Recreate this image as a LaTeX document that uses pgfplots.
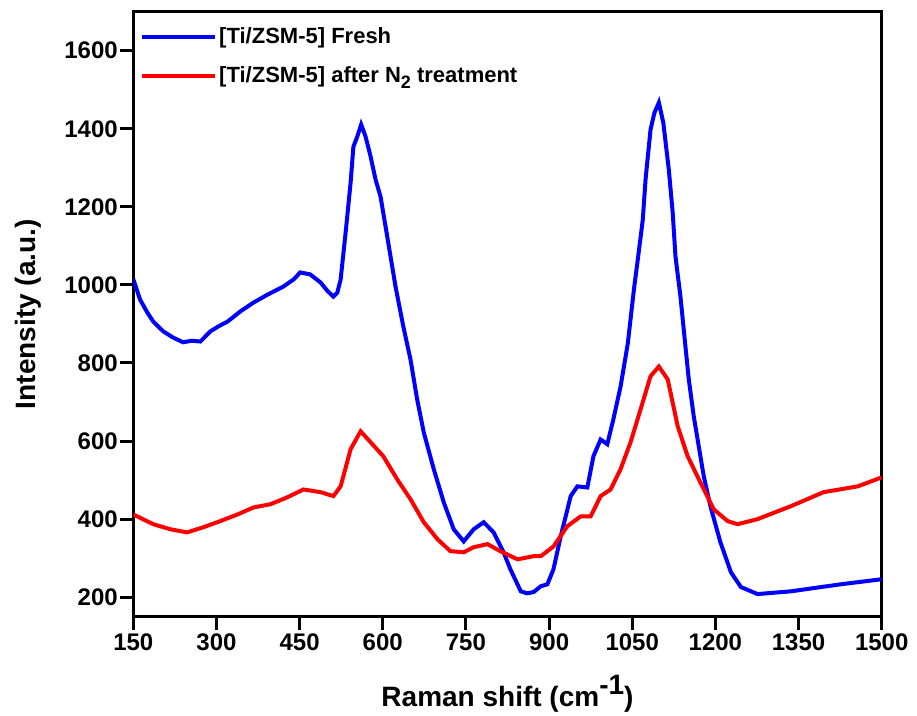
\documentclass[border=0pt]{standalone}
\usepackage{fontspec}
\setmainfont{Liberation Sans}
\usepackage{pgfplots}
\pgfplotsset{compat=1.18}
\usetikzlibrary{calc}
\definecolor{cblue}{RGB}{0,0,255}
\definecolor{cred}{RGB}{255,0,0}
\begin{document}
\begin{tikzpicture}
\begin{axis}[
  scale only axis, width=748.4pt, height=605pt,
  xmin=150, xmax=1500, ymin=150, ymax=1700,
  xtick={150,300,...,1500}, ytick={200,400,...,1600},
  tick align=outside, major tick length=12pt,
  xtick pos=left, ytick pos=left,
  axis line style={line width=3.5pt},
  major tick style={draw=black, line width=3pt},
  /pgf/number format/assume math mode=true,
  /pgf/number format/1000 sep={},
  tick label style={font=\bfseries\fontsize{24}{24}\selectfont},
  xticklabel style={yshift=-2pt},
  xlabel={Raman shift (cm\raisebox{0.75ex}{-1})},
  ylabel={Intensity (a.u.)},
  every axis x label/.style={at={(axis description cs:0.5,-0.1476)}, anchor=base, font=\bfseries\fontsize{28}{28}\selectfont},
  every axis y label/.style={at={(axis description cs:-0.1405,0.5)}, rotate=90, anchor=center, font=\bfseries\fontsize{28}{28}\selectfont},
  legend style={at={(axis description cs:0.005,0.98)}, anchor=north west, draw=none, fill=none,
    font=\bfseries\fontsize{22}{22}\selectfont, row sep=17.5pt, cells={anchor=west}},
  legend image code/.code={\draw[#1] (0pt,0pt) -- (73pt,0pt);},
]
\addplot[cblue, line width=4pt] coordinates {
(150,1015) (162,963) (175,930) (186,906) (204,881) (222,865) (240,853) (255,857)
(271,855) (289,881) (305,895) (320,906) (343,932) (367,955) (392,975) (421,996)
(440,1015) (451,1032) (469,1027) (488,1006) (500,985) (511,970) (518,980) (524,1014)
(533,1134) (542,1262) (547,1354) (554,1380) (561,1411) (569,1380) (578,1329) (587,1270)
(596,1226) (605,1150) (614,1073) (623,996) (637,894) (650,809) (662,707) (674,622)
(692,528) (710,443) (728,374) (746,343) (764,374) (782,392) (800,366) (818,315)
(830,272) (849,215) (860,210) (872,213) (885,228) (897,233) (908,272) (921,356)
(939,459) (951,484) (969,481) (980,561) (993,604) (1005,592) (1016,656) (1029,740)
(1042,850) (1053,988) (1060,1065) (1069,1167) (1074,1270) (1083,1398) (1090,1441) (1098,1467)
(1106,1416) (1116,1295) (1123,1185) (1128,1073) (1137,970) (1146,842) (1152,758) (1161,663)
(1179,510) (1191,433) (1209,341) (1228,264) (1246,226) (1276,208) (1336,215) (1426,233)
(1500,246)
};
\addlegendentry{[Ti/ZSM-5] Fresh}
\addplot[cred, line width=4pt] coordinates {
(150,412) (186,387) (217,374) (247,366) (276,379) (307,395) (338,412) (367,430)
(397,438) (428,456) (457,476) (488,469) (511,459) (524,484) (542,579) (560,625)
(578,597) (601,561) (626,502) (650,451) (674,392) (699,348) (722,318) (746,315)
(764,328) (789,336) (812,318) (843,297) (872,305) (885,305) (908,330) (933,382)
(957,407) (975,407) (993,459) (1011,476) (1029,528) (1047,597) (1065,681) (1083,766)
(1098,791) (1114,758) (1132,638) (1150,561) (1173,494) (1197,425) (1222,395) (1240,387)
(1276,400) (1336,433) (1395,469) (1457,484) (1500,507)
};
\addlegendentry{[Ti/ZSM-5] after N\raisebox{-0.45ex}{\fontsize{18}{18}\selectfont 2} treatment}
\end{axis}
\foreach \i in {0,...,9} {
  \coordinate (t) at ($(current axis.south west)!{\i/9}!(current axis.south east)$);
  \fill[black] ([xshift=-1.5pt]t) rectangle ([xshift=1.5pt,yshift=-13pt]t);
}
\foreach \v in {200,400,...,1600} {
  \coordinate (t) at ($(current axis.south west)!{(\v-150)/1550}!(current axis.north west)$);
  \fill[black] ([yshift=-1.5pt]t) rectangle ([xshift=-13pt,yshift=1.5pt]t);
}
\path ([xshift=-133.3pt,yshift=-98.3pt]current axis.south west) rectangle ([xshift=35.3pt,yshift=11.7pt]current axis.north east);
\end{tikzpicture}
\end{document}
